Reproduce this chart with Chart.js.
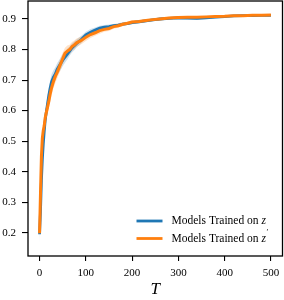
<!DOCTYPE html>
<html>
<head>
<meta charset="utf-8">
<script src="https://cdn.jsdelivr.net/npm/chart.js@4.4.1/dist/chart.umd.min.js"></script>
<style>
html,body{margin:0;padding:0;background:#fff;}
canvas{display:block;}
</style>
</head>
<body>
<canvas id="c" width="284" height="300"></canvas>
<script>
// ---- data ----
const T = [0,2,4,6,8,10,12,14,17,20,23,26,30,34,38,42,46,50,55,60,65,70,75,80,90,100,110,120,130,140,150,160,170,180,190,200,215,230,245,260,280,300,320,340,360,380,400,420,440,460,480,500];
const blueMean = [0.195,0.27,0.37,0.44,0.49,0.53,0.565,0.59,0.62,0.65,0.675,0.695,0.71,0.72,0.735,0.745,0.755,0.765,0.775,0.785,0.795,0.805,0.812,0.82,0.833,0.848,0.857,0.864,0.87,0.873,0.875,0.878,0.88,0.883,0.885,0.888,0.891,0.894,0.897,0.9,0.902,0.904,0.903,0.902,0.904,0.906,0.908,0.91,0.911,0.911,0.912,0.912];
const orangeMean = [0.198,0.33,0.45,0.51,0.535,0.55,0.575,0.59,0.61,0.63,0.655,0.675,0.695,0.712,0.725,0.74,0.755,0.77,0.788,0.795,0.8,0.81,0.815,0.822,0.83,0.84,0.849,0.855,0.862,0.866,0.869,0.875,0.878,0.883,0.886,0.89,0.892,0.895,0.898,0.9,0.903,0.905,0.906,0.906,0.907,0.908,0.909,0.911,0.911,0.912,0.912,0.913];
const blueSpread = [0.03,0.03,0.03,0.028,0.025,0.022,0.022,0.022,0.025,0.025,0.025,0.025,0.022,0.022,0.02,0.02,0.02,0.02,0.018,0.018,0.015,0.015,0.014,0.013,0.012,0.01,0.01,0.008,0.008,0.007,0.007,0.006,0.006,0.006,0.005,0.005,0.005,0.005,0.004,0.004,0.004,0.004,0.005,0.005,0.004,0.004,0.003,0.003,0.003,0.003,0.003,0.003];
const orangeSpread = [0.03,0.03,0.025,0.022,0.02,0.02,0.022,0.022,0.025,0.025,0.025,0.025,0.022,0.022,0.02,0.02,0.02,0.02,0.018,0.018,0.016,0.015,0.015,0.014,0.013,0.012,0.011,0.01,0.01,0.008,0.008,0.007,0.007,0.006,0.006,0.006,0.005,0.005,0.005,0.004,0.004,0.004,0.004,0.004,0.004,0.004,0.003,0.003,0.003,0.003,0.003,0.003];
const xTicks = [0,100,200,300,400,500];
const yTicks = [0.2,0.3,0.4,0.5,0.6,0.7,0.8,0.9];
const seriesLabels = ['Models Trained on ', 'Models Trained on '];
const xTitle = 'T';

const BLUE = '#1f77b4', ORANGE = '#ff7f0e';
const pts = (ys) => T.map((t,i)=>({x:t,y:ys[i]}));
const band = (m,s,sign) => T.map((t,i)=>({x:t,y:m[i]+sign*s[i]}));

const SERIF = '"Liberation Serif","DejaVu Serif",serif';

const framePlugin = {
  id:'frame',
  afterDraw(chart){
    const {ctx, chartArea:a} = chart;
    ctx.save();
    ctx.strokeStyle = '#000';
    ctx.lineWidth = 1.3;
    ctx.strokeRect(a.left, a.top, a.right-a.left, a.bottom-a.top);
    // legend
    const items = [{c:BLUE, prime:false},{c:ORANGE, prime:true}];
    const x0 = a.right - 146, y0 = a.bottom - 35, dy = 17.5;
    items.forEach((it,i)=>{
      const y = y0 + i*dy;
      ctx.strokeStyle = it.c; ctx.lineWidth = 2.8; ctx.lineCap='butt';
      ctx.beginPath(); ctx.moveTo(x0, y); ctx.lineTo(x0+26, y); ctx.stroke();
      ctx.fillStyle = '#000'; ctx.textBaseline='middle'; ctx.textAlign='left';
      ctx.font = '11.5px ' + SERIF;
      const tx = x0 + 35;
      ctx.fillText(seriesLabels[i], tx, y);
      const w = ctx.measureText(seriesLabels[i]).width;
      ctx.font = 'italic 11.5px ' + SERIF;
      ctx.fillText('z', tx+w, y);
      if(it.prime){
        const wz = ctx.measureText('z').width;
        ctx.font = '8px ' + SERIF;
        ctx.fillText('\u2032', tx+w+wz+0.5, y-6);
      }
    });
    ctx.restore();
  }
};

new Chart(document.getElementById('c'), {
  type:'line',
  data:{
    datasets:[
      {data:pts(orangeMean), borderColor:ORANGE, borderWidth:3, pointRadius:0, fill:false, tension:0},
      {data:pts(blueMean), borderColor:BLUE, borderWidth:2.8, pointRadius:0, fill:false, tension:0},
      {data:band(orangeMean,orangeSpread,1), borderWidth:0, pointRadius:0, backgroundColor:'rgba(255,127,14,0.22)', fill:'+1'},
      {data:band(orangeMean,orangeSpread,-1), borderWidth:0, pointRadius:0, fill:false},
      {data:band(blueMean,blueSpread,1), borderWidth:0, pointRadius:0, backgroundColor:'rgba(31,119,180,0.22)', fill:'+1'},
      {data:band(blueMean,blueSpread,-1), borderWidth:0, pointRadius:0, fill:false}
    ]
  },
  options:{
    responsive:false, animation:false,
    layout:{padding:{top:1, right:1.5, left:0, bottom:0}},
    plugins:{legend:{display:false}, tooltip:{enabled:false}},
    scales:{
      x:{
        type:'linear', min:-25, max:525,
        afterBuildTicks(s){ s.ticks = xTicks.map(v=>({value:v})); },
        afterFit(s){ s.height = 44; s.paddingLeft = 0; s.paddingRight = 0; },
        grid:{drawOnChartArea:false, drawTicks:true, tickLength:5, color:'#000', lineWidth:1.1},
        border:{display:false},
        ticks:{font:{family:SERIF, size:11}, color:'#000', padding:6, maxRotation:0},
        title:{display:true, text:xTitle, font:{family:SERIF, size:17, style:'italic'}, color:'#000', padding:{top:2,bottom:0}}
      },
      y:{
        type:'linear', min:0.1237, max:0.959,
        afterBuildTicks(s){ s.ticks = yTicks.map(v=>({value:v})); },
        afterFit(s){ s.width = 28; s.paddingTop = 0; s.paddingBottom = 0; },
        grid:{drawOnChartArea:false, drawTicks:true, tickLength:6, color:'#000', lineWidth:1.1},
        border:{display:false},
        ticks:{font:{family:SERIF, size:11}, color:'#000', padding:6, callback:(v)=>v.toFixed(1)}
      }
    }
  },
  plugins:[framePlugin]
});
</script>
</body>
</html>
